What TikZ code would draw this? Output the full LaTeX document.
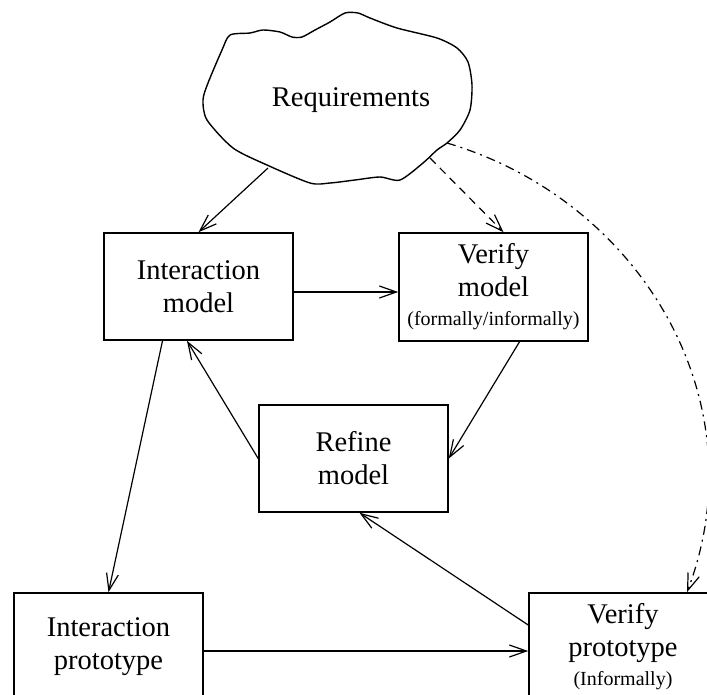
\documentclass[tikz,border=0pt]{standalone}
\usepackage{fontspec}
\setmainfont{Liberation Serif}
\usetikzlibrary{arrows.meta}
\usetikzlibrary{positioning}

\begin{document}
\begin{tikzpicture}[x=1pt,y=-1pt,
    box/.style={draw,line width=1.6pt,minimum width=189pt,minimum height=107pt,align=center,
        font=\fontsize{28.5}{33}\selectfont,inner sep=0pt},
    arr/.style={line width=1.2pt,-{Straight Barb[length=17pt,width=12pt]}},
    longdash/.style={dash pattern=on 8pt off 6pt}]
    \useasboundingbox (0,0) rectangle (707,694);
    \clip (0,0) rectangle (707,694);
    % the cloud
    \draw[line width=1.4pt] plot[smooth cycle,tension=0.45] coordinates {
        (230,35) (250,33) (263,30) (280,32) (292,37) (302,37) (315,30) (330,22)
        (345,13) (358,13) (370,18) (397,28) (437,38) (457,48) (468,62) (472,85)
        (470,110) (460,130) (447,143) (437,150) (423,163) (400,180) (380,177)
        (355,180) (330,183) (310,183) (267,165) (233,148) (207,120) (203,100)
        (208,83) (222,50)};
    \node [font=\fontsize{28.5}{33}\selectfont] (req) at (351,100) {Requirements};
    \coordinate (req-sw) at (268,168);
    \coordinate (req-s) at (430,158);
    \coordinate (req-se) at (447,143);

    \node [box] (imodel) at (198.5,286.5) {Interaction\\model};
    \node [box,minimum height=108pt] (vmodel) at (493.5,287) {Verify\\model\\[-4pt]{\fontsize{20}{24}\selectfont (formally/informally)}};
    \node [box] (refine) at (353.5,458.5) {Refine\\model};
    \node [box] (iproto) at (108.5,646.5) {Interaction\\prototype};
    \node [box,minimum width=188pt] (vproto) at (623,646.5) {Verify\\prototype\\[-4pt]{\fontsize{20}{24}\selectfont (Informally)}};

    \path[arr]
        (req-sw) edge (imodel.north)
        (req-s) edge [longdash] ([xshift=10pt]vmodel.north)
        ([yshift=-5.5pt]imodel.east) edge ([yshift=-5pt]vmodel.west)
        ([xshift=26pt]vmodel.south) edge (refine.east)
        (refine.west) edge ([xshift=-11.5pt]imodel.south)
        ([xshift=-36pt]imodel.south) edge (iproto.north)
        ([yshift=-4.5pt]iproto.east) edge ([yshift=-4.5pt]vproto.west)
        ([yshift=21.5pt]vproto.west) edge ([xshift=6pt]refine.south)
    ;
    \draw[arr,dash pattern=on 9pt off 5pt on 2pt off 5pt]
        (req-se) .. controls (640,200) and (760,400) .. ([xshift=64pt]vproto.north);
\end{tikzpicture}
\end{document}
